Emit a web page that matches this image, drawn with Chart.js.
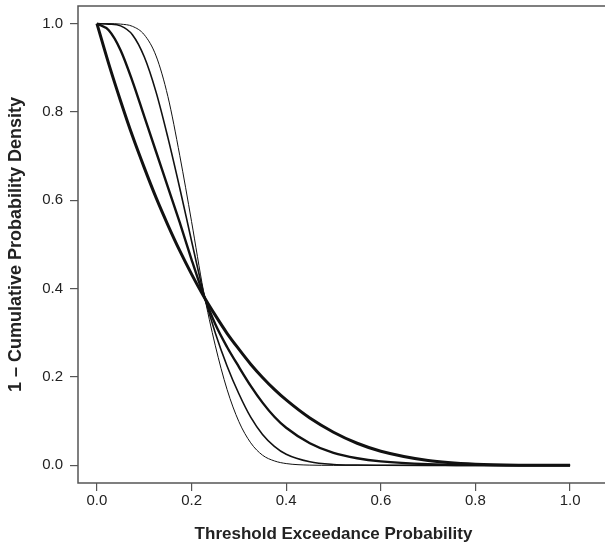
<!DOCTYPE html>
<html>
<head>
<meta charset="utf-8">
<script src="https://cdn.jsdelivr.net/npm/chart.js@4"></script>
<style>
  html, body { margin: 0; padding: 0; background: #fff; overflow: hidden; }
  #wrap { width: 605px; height: 548px; }
</style>
</head>
<body>
<div id="wrap"><canvas id="curves"></canvas></div>
<script>
// valores (x = probabilidad de excedencia)
const xs      = [0, 0.025, 0.05, 0.075, 0.1, 0.125, 0.15, 0.175, 0.2, 0.225, 0.25, 0.275, 0.3, 0.325, 0.35, 0.375, 0.4, 0.45, 0.5, 0.55, 0.6, 0.7, 0.8, 0.9, 1.0];
const curvaA  = [1.0, 0.909, 0.825, 0.746, 0.674, 0.606, 0.544, 0.486, 0.433, 0.384, 0.340, 0.299, 0.263, 0.229, 0.199, 0.172, 0.148, 0.107, 0.075, 0.050, 0.032, 0.011, 0.0025, 0.0003, 0];
const curvaB  = [1.0, 0.985, 0.940, 0.870, 0.790, 0.710, 0.630, 0.550, 0.466, 0.387, 0.320, 0.268, 0.223, 0.180, 0.142, 0.110, 0.085, 0.050, 0.028, 0.016, 0.009, 0.0025, 0.0005, 0.0001, 0];
const curvaC  = [1.0, 0.999, 0.995, 0.975, 0.925, 0.845, 0.742, 0.628, 0.508, 0.392, 0.300, 0.225, 0.162, 0.109, 0.070, 0.043, 0.025, 0.008, 0.002, 0.0006, 0.0002, 0, 0, 0, 0];
const curvaD  = [1.0, 1.0, 0.999, 0.994, 0.975, 0.927, 0.835, 0.702, 0.552, 0.396, 0.272, 0.172, 0.099, 0.051, 0.023, 0.010, 0.004, 0.0005, 0, 0, 0, 0, 0, 0, 0];
const grosores = [3, 2.4, 1.6, 1];
const ticksXY  = [0, 0.2, 0.4, 0.6, 0.8, 1.0];

const series = [curvaA, curvaB, curvaC, curvaD];

function puntos(ys) {
    return xs.map((x, i) => ({ x: x, y: ys[i] }));
}

// marco: izquierda, arriba y abajo (el derecho queda fuera de la imagen)
const marco = {
    id: 'marco',
    afterDraw(chart) {
        const { ctx, chartArea } = chart;
        ctx.save();
        ctx.strokeStyle = '#555';
        ctx.lineWidth = 1.5;
        ctx.beginPath();
        ctx.moveTo(chart.width, chartArea.top);
        ctx.lineTo(chartArea.left, chartArea.top);
        ctx.lineTo(chartArea.left, chartArea.bottom);
        ctx.lineTo(chart.width, chartArea.bottom);
        ctx.stroke();
        ctx.restore();
    }
};

Chart.defaults.font.family = '"Liberation Sans", Arial, sans-serif';
Chart.defaults.color = '#222';

var ctx = document.getElementById('curves').getContext('2d');
var grafico = new Chart(ctx, {
    type: 'line',
    data: {
        datasets: series.map((ys, i) => ({
            data: puntos(ys),
            borderColor: '#111',
            borderWidth: grosores[i],
            pointRadius: 0,
            cubicInterpolationMode: 'monotone',
            fill: false
        }))
    },
    options: {
        responsive: true,
        maintainAspectRatio: false,
        animation: false,
        layout: { padding: { top: 6, right: 16, left: 0, bottom: 0 } },
        plugins: {
            legend: { display: false },
            tooltip: { enabled: false }
        },
        scales: {
            x: {
                type: 'linear',
                min: -0.04,
                max: 1.04,
                afterBuildTicks: s => { s.ticks = ticksXY.map(v => ({ value: v })); },
                afterFit: s => { s.height = 65; s.paddingLeft = 0; s.paddingRight = 0; },
                ticks: {
                    font: { size: 15 },
                    padding: 1,
                    callback: v => v.toFixed(1)
                },
                grid: { drawOnChartArea: false, tickLength: 8, color: '#555', lineWidth: 1.2 },
                border: { display: false },
                title: {
                    display: true,
                    text: 'Threshold Exceedance Probability',
                    font: { size: 17, weight: 'bold' },
                    padding: { top: 0, bottom: 3 }
                }
            },
            y: {
                type: 'linear',
                min: -0.04,
                max: 1.04,
                afterBuildTicks: s => { s.ticks = ticksXY.map(v => ({ value: v })); },
                afterFit: s => { s.width = 78; s.paddingTop = 0; s.paddingBottom = 0; },
                ticks: {
                    font: { size: 15 },
                    padding: 7,
                    callback: v => v.toFixed(1)
                },
                grid: { drawOnChartArea: false, tickLength: 8, color: '#555', lineWidth: 1.2 },
                border: { display: false },
                title: {
                    display: true,
                    text: '1 – Cumulative Probability Density',
                    font: { size: 18, weight: 'bold' },
                    padding: { top: 5, bottom: 0 }
                }
            }
        }
    },
    plugins: [marco]
});
</script>
</body>
</html>
